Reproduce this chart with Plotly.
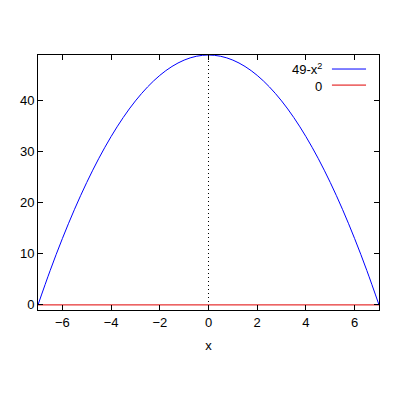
import plotly.graph_objs as go

x_vals = [-7, -6.5, -6, -5.5, -5, -4.5, -4, -3.5, -3, -2.5, -2, -1.5, -1, -0.5, 0,
          0.5, 1, 1.5, 2, 2.5, 3, 3.5, 4, 4.5, 5, 5.5, 6, 6.5, 7]
y_vals = [0, 6.75, 13, 18.75, 24, 28.75, 33, 36.75, 40, 42.75, 45, 46.75, 48, 48.75, 49,
          48.75, 48, 46.75, 45, 42.75, 40, 36.75, 33, 28.75, 24, 18.75, 13, 6.75, 0]
zero_x = [-7, 7]
zero_y = [0, 0]
x_ticks = [-6, -4, -2, 0, 2, 4, 6]
y_ticks = [0, 10, 20, 30, 40]

fnt = dict(family='Liberation Sans, Arial', size=13, color='black')

fig = go.Figure()
fig.add_trace(go.Scatter(x=[0, 0], y=[-1, 49], mode='lines',
                         line=dict(color='black', width=1, dash='1px,3px'), showlegend=False))
fig.add_trace(go.Scatter(x=zero_x, y=zero_y, mode='lines',
                         line=dict(color='#e00000', width=1), showlegend=False))
fig.add_trace(go.Scatter(x=x_vals, y=y_vals, mode='lines', line_shape='spline',
                         line=dict(color='blue', width=1), showlegend=False))

# legend like gnuplot: text then sample line
fig.add_annotation(x=0.838, y=0.945, xref='paper', yref='paper', text='49-x<sup>2</sup>',
                   showarrow=False, xanchor='right', yanchor='middle', font=fnt)
fig.add_annotation(x=0.838, y=0.878, xref='paper', yref='paper', text='0',
                   showarrow=False, xanchor='right', yanchor='middle', font=fnt)
fig.add_shape(type='line', xref='paper', yref='paper', x0=0.862, x1=0.962, y0=0.945, y1=0.945,
              line=dict(color='blue', width=1))
fig.add_shape(type='line', xref='paper', yref='paper', x0=0.862, x1=0.962, y0=0.882, y1=0.882,
              line=dict(color='#e00000', width=1))

ax = dict(showgrid=False, zeroline=False, showline=True, mirror='ticks', linecolor='black',
          linewidth=1, ticks='inside', ticklen=5, tickcolor='black', tickfont=fnt)
# margins compensate the 8px page body margin
fig.update_layout(
    width=400, height=400, plot_bgcolor='white', paper_bgcolor='white',
    margin=dict(l=30, r=29, t=47, b=98),
    xaxis=dict(range=[-7, 7], tickvals=x_ticks, title=dict(text='x', font=fnt, standoff=12), **ax),
    yaxis=dict(range=[-1, 49], tickvals=y_ticks, **ax),
)
fig.write_html("out.html")
